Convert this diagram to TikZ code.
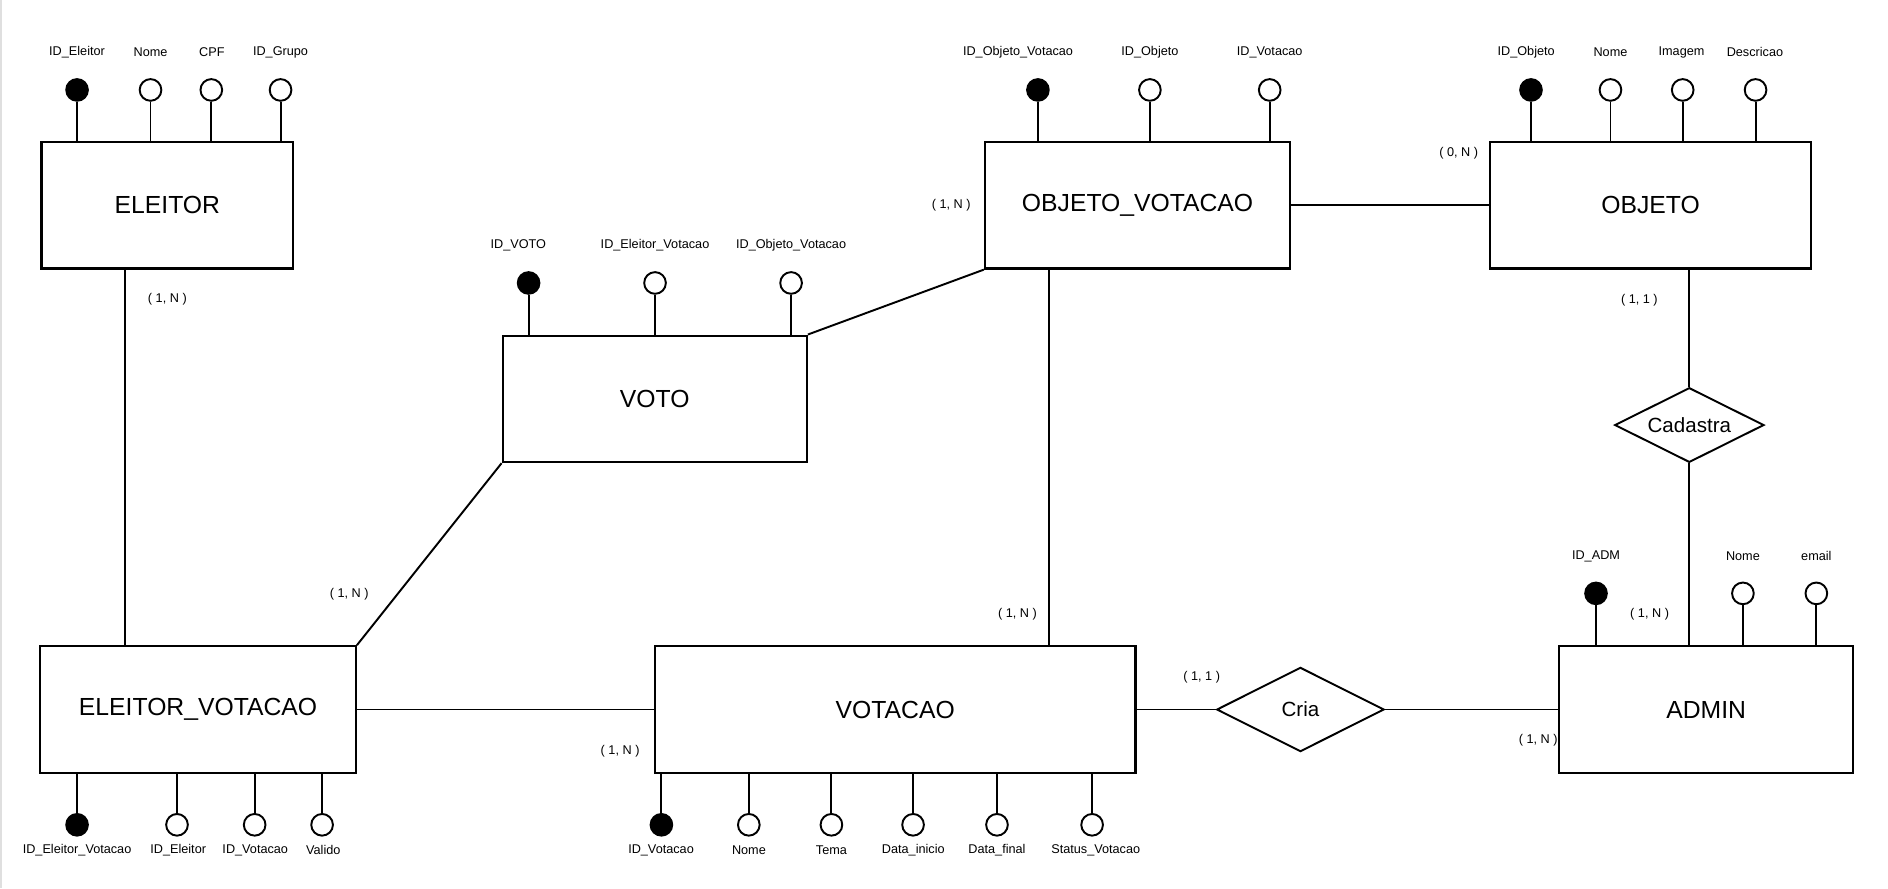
\documentclass[tikz,border=0pt]{standalone}
\usepackage{fontspec}
\setmainfont{Liberation Sans}
\usetikzlibrary{shapes.geometric}

\tikzset{
  entidade/.style={draw, line width=1.4pt, minimum height=78.75pt, inner sep=0pt, font=\fontsize{15.4}{18}\selectfont},
  relacao/.style={draw, diamond, aspect=2, line width=1.2pt, inner sep=0pt, font=\fontsize{12.8}{15}\selectfont},
  atrib/.style={draw, circle, line width=1.2pt, minimum size=13.5pt, inner sep=0pt, fill=white},
  chave/.style={atrib, fill=black},
  rotulo/.style={font=\fontsize{7.9}{9}\selectfont, inner sep=0pt},
  card/.style={font=\fontsize{7.9}{9}\selectfont, inner sep=0pt},
  liga/.style={line width=1.2pt},
}

\begin{document}
\begin{tikzpicture}[x=0.75pt,y=0.75pt,yscale=-1,xscale=1]
\useasboundingbox (0,0) rectangle (1568,737.5);
\draw [gray!25, line width=1pt] (0.7,0) -- (0.7,737.5);

%Shape: Entities
\node [entidade, minimum width=156.75pt] (eleitor) at (139,170.5) {ELEITOR};
\node [entidade, minimum width=190.1pt] (objvot) at (944.75,170.5) {OBJETO\_VOTACAO};
\node [entidade, minimum width=199.9pt] (objeto) at (1370.75,170.5) {OBJETO};
\node [entidade, minimum width=189.4pt] (voto) at (543.75,331.25) {VOTO};
\node [entidade, minimum width=196.5pt] (eleivot) at (164.5,589.25) {ELEITOR\_VOTACAO};
\node [entidade, minimum width=299.25pt] (votacao) at (743.5,589.25) {VOTACAO};
\node [entidade, minimum width=183pt] (admin) at (1417,589.25) {ADMIN};

%Shape: Relationships
\node [relacao, minimum width=93pt, minimum height=46.5pt] (cadastra) at (1403,353) {Cadastra};
\node [relacao, minimum width=104.25pt, minimum height=52.5pt] (cria) at (1080,589.25) {Cria};

%Shape: Links
\draw [liga] ([xshift=-26.6pt]eleitor.south) -- ([xshift=-26.6pt]eleitor.south |- eleivot.north);
\draw [liga] (eleivot.north east) -- (voto.south west);
\draw [liga] (voto.north east) -- (objvot.south west);
\draw [liga] (eleivot.east) -- (votacao.west);
\draw [liga] (objvot.east) -- (objeto.west);
\draw [liga] ([xshift=-54.9pt]objvot.south) -- ([xshift=-54.9pt]objvot.south |- votacao.north);
\draw [liga] (cadastra.north) -- (cadastra.north |- objeto.south);
\draw [liga] (cadastra.south) -- (cadastra.south |- admin.north);
\draw [liga] (votacao.east) -- (cria.west);
\draw [liga] (cria.east) -- (admin.west);

%Shape: ELEITOR attributes
\node [chave] (eleitor1) at (64,74.7) {};
\node [atrib] (eleitor2) at (125,74.7) {};
\node [atrib] (eleitor3) at (175.5,74.7) {};
\node [atrib] (eleitor4) at (233,74.7) {};
\draw [liga] (eleitor1) -- (eleitor1 |- eleitor.north);
\draw [liga] (eleitor2) -- (eleitor2 |- eleitor.north);
\draw [liga] (eleitor3) -- (eleitor3 |- eleitor.north);
\draw [liga] (eleitor4) -- (eleitor4 |- eleitor.north);
% Text Node
\node [rotulo] (teleitor1) at (64,43.5) {ID\_Eleitor};
\node [rotulo] (teleitor2) at (125,43.5) {Nome};
\node [rotulo] (teleitor3) at (176,43.5) {CPF};
\node [rotulo] (teleitor4) at (233,43.5) {ID\_Grupo};

%Shape: OBJETO_VOTACAO attributes
\node [chave] (objvot1) at (862,74.7) {};
\node [atrib] (objvot2) at (955,74.7) {};
\node [atrib] (objvot3) at (1054.5,74.7) {};
\draw [liga] (objvot1) -- (objvot1 |- objvot.north);
\draw [liga] (objvot2) -- (objvot2 |- objvot.north);
\draw [liga] (objvot3) -- (objvot3 |- objvot.north);
% Text Node
\node [rotulo] (tobjvot1) at (845.5,43.5) {ID\_Objeto\_Votacao};
\node [rotulo] (tobjvot2) at (955,43.5) {ID\_Objeto};
\node [rotulo] (tobjvot3) at (1054.5,43.5) {ID\_Votacao};

%Shape: OBJETO attributes
\node [chave] (objeto1) at (1271.5,74.7) {};
\node [atrib] (objeto2) at (1337.5,74.7) {};
\node [atrib] (objeto3) at (1397.5,74.7) {};
\node [atrib] (objeto4) at (1458,74.7) {};
\draw [liga] (objeto1) -- (objeto1 |- objeto.north);
\draw [liga] (objeto2) -- (objeto2 |- objeto.north);
\draw [liga] (objeto3) -- (objeto3 |- objeto.north);
\draw [liga] (objeto4) -- (objeto4 |- objeto.north);
% Text Node
\node [rotulo] (tobjeto1) at (1267.5,43.5) {ID\_Objeto};
\node [rotulo] (tobjeto2) at (1337.5,43.5) {Nome};
\node [rotulo] (tobjeto3) at (1396.5,43.5) {Imagem};
\node [rotulo] (tobjeto4) at (1457.5,43.5) {Descricao};

%Shape: VOTO attributes
\node [chave] (voto1) at (439,235) {};
\node [atrib] (voto2) at (544,235) {};
\node [atrib] (voto3) at (657,235) {};
\draw [liga] (voto1) -- (voto1 |- voto.north);
\draw [liga] (voto2) -- (voto2 |- voto.north);
\draw [liga] (voto3) -- (voto3 |- voto.north);
% Text Node
\node [rotulo] (tvoto1) at (430.5,204) {ID\_VOTO};
\node [rotulo] (tvoto2) at (544,204) {ID\_Eleitor\_Votacao};
\node [rotulo] (tvoto3) at (657,204) {ID\_Objeto\_Votacao};

%Shape: ADMIN attributes
\node [chave] (admin1) at (1325.5,492.8) {};
\node [atrib] (admin2) at (1447.5,492.8) {};
\node [atrib] (admin3) at (1508.5,492.8) {};
\draw [liga] (admin1) -- (admin1 |- admin.north);
\draw [liga] (admin2) -- (admin2 |- admin.north);
\draw [liga] (admin3) -- (admin3 |- admin.north);
% Text Node
\node [rotulo] (tadmin1) at (1325.5,462) {ID\_ADM};
\node [rotulo] (tadmin2) at (1447.5,462) {Nome};
\node [rotulo] (tadmin3) at (1508.5,462) {email};

%Shape: ELEITOR_VOTACAO attributes
\node [chave] (eleivot1) at (64,685) {};
\node [atrib] (eleivot2) at (147,685) {};
\node [atrib] (eleivot3) at (211.5,685) {};
\node [atrib] (eleivot4) at (267.5,685) {};
\draw [liga] (eleivot1) -- (eleivot1 |- eleivot.south);
\draw [liga] (eleivot2) -- (eleivot2 |- eleivot.south);
\draw [liga] (eleivot3) -- (eleivot3 |- eleivot.south);
\draw [liga] (eleivot4) -- (eleivot4 |- eleivot.south);
% Text Node
\node [rotulo] (televot1) at (64,706) {ID\_Eleitor\_Votacao};
\node [rotulo] (televot2) at (148,706) {ID\_Eleitor};
\node [rotulo] (televot3) at (212,706) {ID\_Votacao};
\node [rotulo] (televot4) at (268.5,706) {Valido};

%Shape: VOTACAO attributes
\node [chave] (votacao1) at (549.3,685) {};
\node [atrib] (votacao2) at (621.9,685) {};
\node [atrib] (votacao3) at (690.5,685) {};
\node [atrib] (votacao4) at (758.3,685) {};
\node [atrib] (votacao5) at (828,685) {};
\node [atrib] (votacao6) at (907,685) {};
\draw [liga] (votacao1) -- (votacao1 |- votacao.south);
\draw [liga] (votacao2) -- (votacao2 |- votacao.south);
\draw [liga] (votacao3) -- (votacao3 |- votacao.south);
\draw [liga] (votacao4) -- (votacao4 |- votacao.south);
\draw [liga] (votacao5) -- (votacao5 |- votacao.south);
\draw [liga] (votacao6) -- (votacao6 |- votacao.south);
% Text Node
\node [rotulo] (tvotacao1) at (549,706) {ID\_Votacao};
\node [rotulo] (tvotacao2) at (622,706) {Nome};
\node [rotulo] (tvotacao3) at (690.5,706) {Tema};
\node [rotulo] (tvotacao4) at (758.5,706) {Data\_inicio};
\node [rotulo] (tvotacao5) at (828,706) {Data\_final};
\node [rotulo] (tvotacao6) at (910,706) {Status\_Votacao};

% Text Node: cardinalities
\node [card] (c1) at (139,248.5) {( 1, N )};
\node [card] (c2) at (790,170.5) {( 1, N )};
\node [card] (c3) at (1211.5,127) {( 0, N )};
\node [card] (c4) at (1361.5,249) {( 1, 1 )};
\node [card] (c5) at (1370,510.5) {( 1, N )};
\node [card] (c6) at (845,510.5) {( 1, N )};
\node [card] (c7) at (998,562.6) {( 1, 1 )};
\node [card] (c8) at (1277.5,614.6) {( 1, N )};
\node [card] (c9) at (290,493.4) {( 1, N )};
\node [card] (c10) at (515,624) {( 1, N )};

\end{tikzpicture}
\end{document}
